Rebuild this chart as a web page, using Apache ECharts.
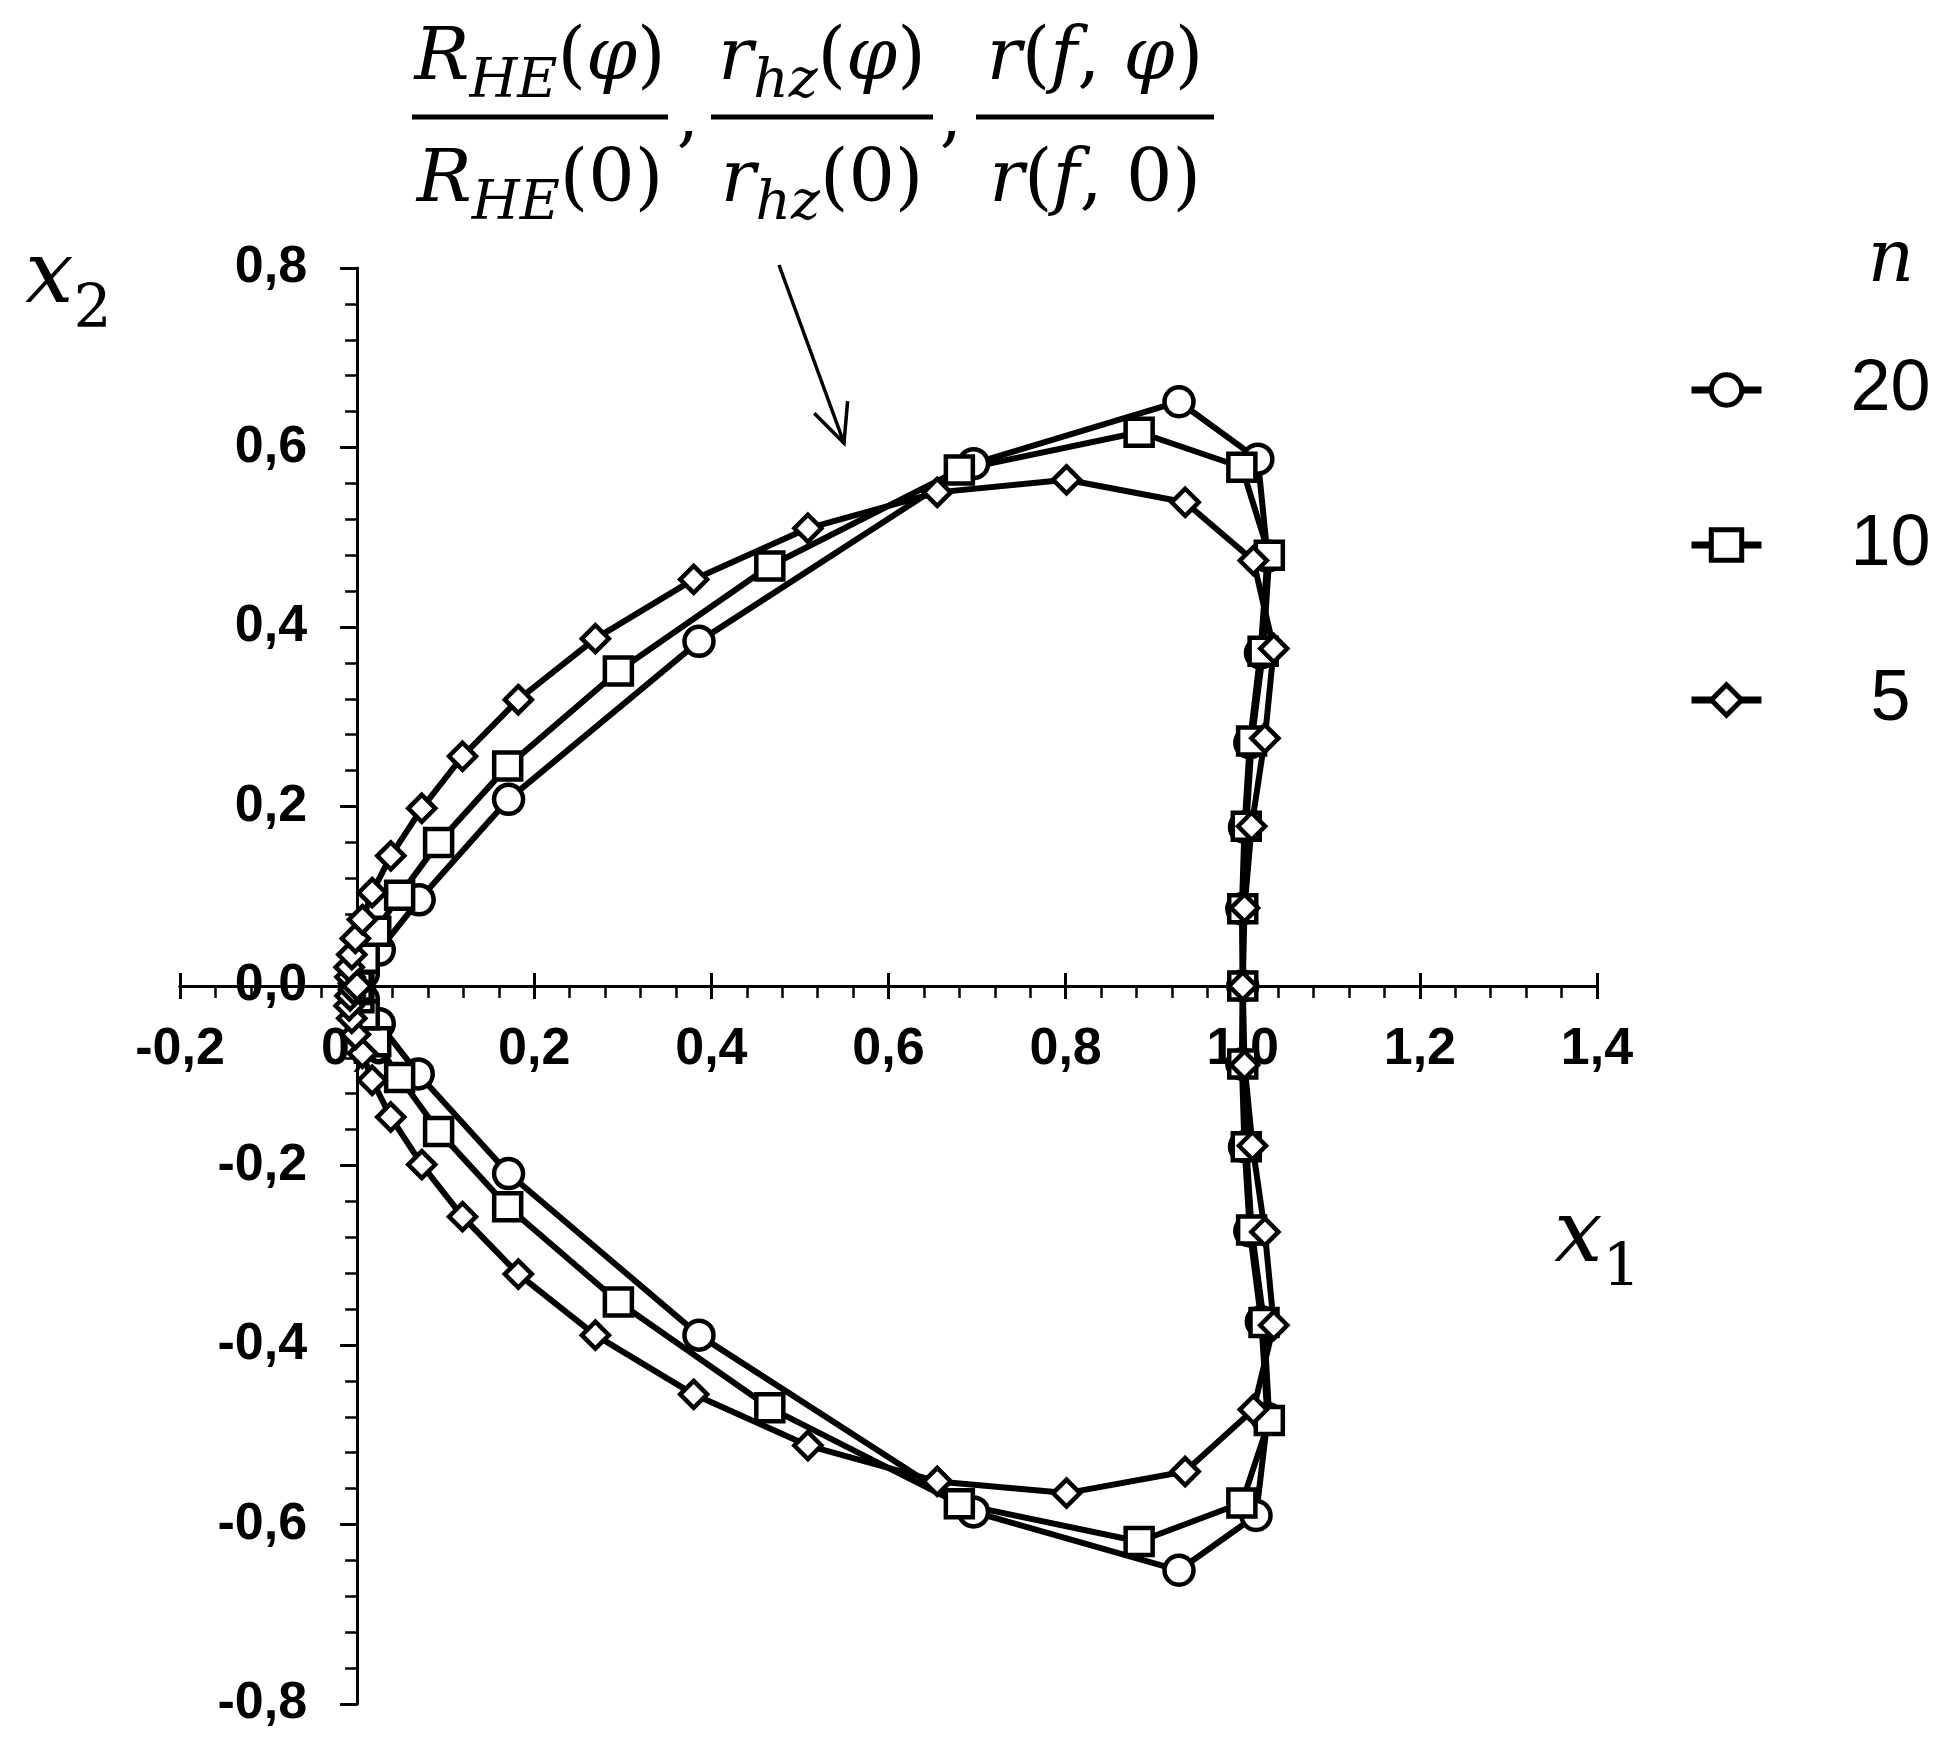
<!DOCTYPE html>
<html>
<head>
<meta charset="utf-8">
<title>x1 x2</title>
<style>
html, body { margin: 0; width: 100%; height: 100%; background: #fff; }
#chart { width: 1950px; height: 1753px; }
</style>
</head>
<body>
<div id="chart"></div>
<script src="https://cdn.jsdelivr.net/npm/echarts@6/dist/echarts.min.js"></script>
<script>
// n = 20 (circles): origin -> upper branch -> (1,0) -> lower branch -> origin
const n20X = [0.000, 0.000, 0.007, 0.025, 0.070, 0.171, 0.386, 0.696, 0.928, 1.017, 1.028, 1.020, 1.008, 1.002, 0.999, 1.000,
              0.999, 1.002, 1.008, 1.021, 1.028, 1.015, 0.928, 0.696, 0.386, 0.171, 0.069, 0.025, 0.007, 0.000, 0.000];
const n20Y = [0.000, 0.003, 0.014, 0.040, 0.096, 0.208, 0.384, 0.582, 0.651, 0.587, 0.479, 0.371, 0.271, 0.177, 0.086, 0.000,
              -0.087, -0.179, -0.273, -0.374, -0.482, -0.590, -0.651, -0.586, -0.389, -0.209, -0.098, -0.042, -0.015, -0.004, 0.000];

// n = 10 (squares)
const n10X = [0.000, -0.001, 0.002, 0.008, 0.021, 0.048, 0.092, 0.170, 0.295, 0.466, 0.680, 0.883, 0.999, 1.030, 1.023, 1.010, 1.004, 1.000, 1.000,
              1.000, 1.004, 1.010, 1.024, 1.030, 0.999, 0.883, 0.680, 0.466, 0.295, 0.170, 0.092, 0.048, 0.021, 0.008, 0.002, -0.001, 0.000];
const n10Y = [0.000, 0.003, 0.012, 0.031, 0.061, 0.101, 0.160, 0.245, 0.351, 0.468, 0.575, 0.617, 0.578, 0.480, 0.373, 0.273, 0.178, 0.086, 0.000,
              -0.087, -0.179, -0.272, -0.375, -0.484, -0.576, -0.619, -0.577, -0.470, -0.352, -0.246, -0.162, -0.102, -0.062, -0.032, -0.013, -0.004, 0.000];

// n = 5 (diamonds)
const n5X = [0.000, -0.004, -0.008, -0.009, -0.006, -0.002, 0.006, 0.017, 0.038, 0.073, 0.119, 0.182, 0.269, 0.380, 0.509, 0.655, 0.801, 0.935, 1.012, 1.035, 1.025, 1.010, 1.002, 1.000,
             1.002, 1.011, 1.025, 1.035, 1.012, 0.935, 0.801, 0.655, 0.509, 0.380, 0.269, 0.182, 0.119, 0.073, 0.038, 0.017, 0.006, -0.002, -0.006, -0.009, -0.008, -0.004, 0.000];
const n5Y = [0.000, 0.003, 0.010, 0.021, 0.035, 0.053, 0.074, 0.104, 0.145, 0.198, 0.256, 0.319, 0.387, 0.453, 0.510, 0.550, 0.564, 0.539, 0.474, 0.376, 0.276, 0.178, 0.087, 0.000,
             -0.088, -0.178, -0.274, -0.378, -0.472, -0.541, -0.565, -0.552, -0.512, -0.455, -0.389, -0.321, -0.257, -0.199, -0.146, -0.105, -0.075, -0.054, -0.036, -0.022, -0.011, -0.004, 0.000];

const seriesNames = ['20', '10', '5'];
const xRange = [-0.2, 1.4];
const yRange = [-0.8, 0.8];
const tickStep = 0.2;

const sans = 'Liberation Sans, Arial, sans-serif';
const serif = 'DejaVu Serif, serif';

// plot box
const gridLeft = 180, gridTop = 268, gridW = 1417, gridH = 1436;
// axes cross at zero: shift them from the grid edges
const xAxisShift = -gridH * (0 - yRange[0]) / (yRange[1] - yRange[0]);
const yAxisShift = -gridW * (0 - xRange[0]) / (xRange[1] - xRange[0]);

function pairs(xs, ys) {
    return xs.map(function (x, i) { return [x, ys[i]]; });
}
function fmt(v) {
    if (Math.abs(v) < 1e-9) v = 0;
    return v.toFixed(1).replace('.', ',');
}

let chart = echarts.init(document.getElementById('chart'));

function lineSeries(name, symbol, size, data) {
    return {
        name: name,
        type: 'line',
        data: data,
        symbol: symbol,
        symbolSize: size,
        showAllSymbol: true,
        clip: false,
        lineStyle: { color: '#000', width: 6 },
        itemStyle: { color: '#fff', borderColor: '#000', borderWidth: 4.5 },
        emphasis: { disabled: true },
        animation: false
    };
}

// math text styles for the rich labels
const mathRich = {
    i: { fontFamily: serif, fontStyle: 'italic', fontSize: 73, height: 76, lineHeight: 76, verticalAlign: 'bottom', color: '#000' },
    u: { fontFamily: serif, fontSize: 73, height: 76, lineHeight: 76, verticalAlign: 'bottom', color: '#000' },
    s: { fontFamily: serif, fontStyle: 'italic', fontSize: 55, height: 30, lineHeight: 30, verticalAlign: 'bottom', color: '#000' }
};
const axisRich = {
    i: { fontFamily: serif, fontStyle: 'italic', fontSize: 86, height: 90, lineHeight: 90, verticalAlign: 'bottom', color: '#000' },
    s: { fontFamily: serif, fontSize: 60, height: 28, lineHeight: 28, verticalAlign: 'bottom', color: '#000' }
};

function mathText(x, y, text, rich) {
    return {
        type: 'text', x: x, y: y, silent: true,
        style: { text: text, rich: rich, align: 'center', verticalAlign: 'bottom' }
    };
}
function bar(x1, x2, y) {
    return { type: 'line', silent: true, shape: { x1: x1, y1: y, x2: x2, y2: y }, style: { stroke: '#000', lineWidth: 5 } };
}
function comma(x) {
    return { type: 'text', x: x, y: 156, silent: true, style: { text: ',', fontFamily: serif, fontSize: 70, fill: '#000', align: 'center', verticalAlign: 'bottom' } };
}

// arrow pointing at the curves
const arrowFrom = [779, 265], arrowTo = [844, 443];
function arrow() {
    const dx = arrowTo[0] - arrowFrom[0], dy = arrowTo[1] - arrowFrom[1];
    const len = Math.sqrt(dx * dx + dy * dy);
    const ux = -dx / len, uy = -dy / len;
    const a = 25 * Math.PI / 180, w = 42;
    const c = Math.cos(a), s = Math.sin(a);
    const left = [arrowTo[0] + w * (ux * c - uy * s), arrowTo[1] + w * (ux * s + uy * c)];
    const right = [arrowTo[0] + w * (ux * c + uy * s), arrowTo[1] + w * (-ux * s + uy * c)];
    return [
        { type: 'line', silent: true, shape: { x1: arrowFrom[0], y1: arrowFrom[1], x2: arrowTo[0], y2: arrowTo[1] }, style: { stroke: '#000', lineWidth: 3.5 } },
        { type: 'polyline', silent: true, shape: { points: [left, arrowTo, right] }, style: { stroke: '#000', lineWidth: 3.5, fill: null } }
    ];
}

const commonX = {
    type: 'value', min: xRange[0], max: xRange[1], interval: tickStep,
    position: 'bottom', offset: xAxisShift,
    splitLine: { show: false }
};

let option = {
    animation: false,
    backgroundColor: '#fff',
    grid: { left: gridLeft, top: gridTop, width: gridW, height: gridH, outerBoundsMode: 'none' },
    xAxis: [
        Object.assign({}, commonX, {
            axisLine: { onZero: false, lineStyle: { color: '#000', width: 3 } },
            axisTick: { inside: false, length: 13, lineStyle: { color: '#000', width: 3 } },
            minorTick: { show: true, splitNumber: 5, length: 12, lineStyle: { color: '#000', width: 2.5 } },
            axisLabel: { margin: 38, formatter: fmt, fontFamily: sans, fontWeight: 'bold', fontSize: 52, color: '#000' }
        }),
        // second copy only for the upper half of the crossing major ticks
        Object.assign({}, commonX, {
            axisLine: { onZero: false, lineStyle: { color: '#000', width: 3 } },
            axisTick: { inside: true, length: 13, lineStyle: { color: '#000', width: 3 } },
            axisLabel: { show: false }
        })
    ],
    yAxis: {
        type: 'value', min: yRange[0], max: yRange[1], interval: tickStep,
        position: 'left', offset: yAxisShift,
        axisLine: { onZero: false, lineStyle: { color: '#000', width: 3 } },
        axisTick: { inside: false, length: 17, lineStyle: { color: '#000', width: 3 } },
        minorTick: { show: true, splitNumber: 5, length: 12, lineStyle: { color: '#000', width: 2.5 } },
        splitLine: { show: false },
        axisLabel: { margin: 50, formatter: fmt, fontFamily: sans, fontWeight: 'bold', fontSize: 52, color: '#000' }
    },
    legend: {
        data: seriesNames,
        orient: 'vertical',
        left: 1683,
        top: 349,
        itemWidth: 70,
        itemHeight: 38,
        itemGap: 83,
        selectedMode: false,
        lineStyle: { width: 7, color: '#000' },
        itemStyle: { color: '#fff', borderColor: '#000', borderWidth: 5 },
        formatter: function (name) { return '{c|' + name + '}'; },
        textStyle: {
            rich: { c: { width: 248, align: 'center', fontFamily: sans, fontSize: 72, lineHeight: 70, color: '#000' } }
        }
    },
    graphic: [
        // fraction 1
        mathText(540, 98, '{i|R}{s|HE}{u|(}{i|φ}{u|)}', mathRich),
        bar(412, 668, 117),
        mathText(540, 220, '{i|R}{s|HE}{u|(0)}', mathRich),
        comma(688),
        // fraction 2
        mathText(822, 98, '{i|r}{s|hz}{u|(}{i|φ}{u|)}', mathRich),
        bar(711, 933, 117),
        mathText(822, 220, '{i|r}{s|hz}{u|(0)}', mathRich),
        comma(951),
        // fraction 3
        mathText(1095, 98, '{i|r}{u|(}{i|f}{u|, }{i|φ}{u|)}', mathRich),
        bar(976, 1214, 117),
        mathText(1095, 220, '{i|r}{u|(}{i|f}{u|, 0)}', mathRich),
        // axis names
        { type: 'text', x: 25, y: 325, silent: true, style: { text: '{i|x}{s|2}', rich: axisRich, align: 'left', verticalAlign: 'bottom' } },
        { type: 'text', x: 1554, y: 1284, silent: true, style: { text: '{i|x}{s|1}', rich: axisRich, align: 'left', verticalAlign: 'bottom' } },
        // legend title
        { type: 'text', x: 1891, y: 262, silent: true, style: { text: 'n', fontFamily: serif, fontStyle: 'italic', fontSize: 72, fill: '#000', align: 'center', verticalAlign: 'middle' } }
    ].concat(arrow()),
    series: [
        lineSeries(seriesNames[0], 'circle', 29, pairs(n20X, n20Y)),
        lineSeries(seriesNames[1], 'rect', 27, pairs(n10X, n10Y)),
        lineSeries(seriesNames[2], 'diamond', 27, pairs(n5X, n5Y))
    ]
};

chart.setOption(option);
</script>
</body>
</html>
